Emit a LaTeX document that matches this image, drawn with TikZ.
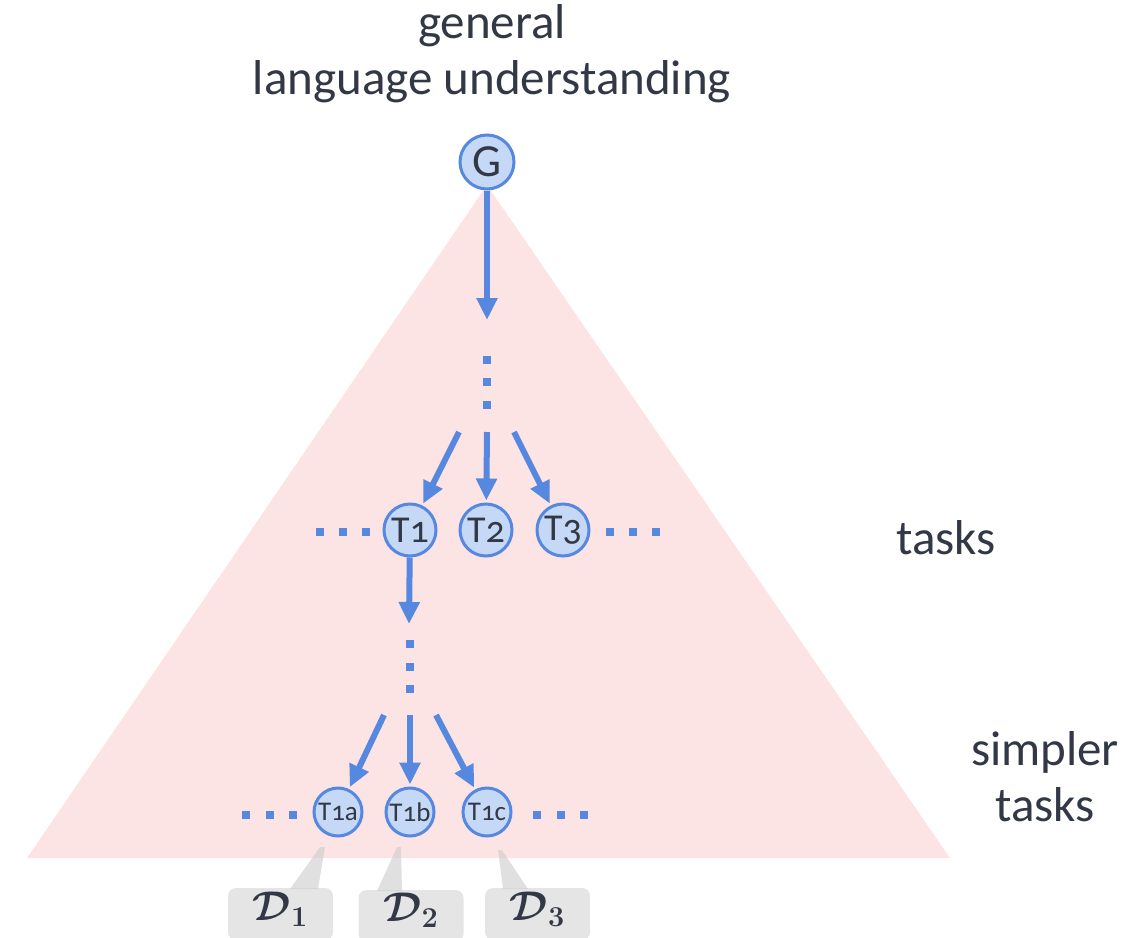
\documentclass[tikz,border=0pt]{standalone}
\usepackage{fontspec}
\setmainfont[Numbers=OldStyle]{Carlito}
\usepackage{bm}
\usetikzlibrary{arrows.meta}
\definecolor{treeBleu}{RGB}{86,136,224}
\definecolor{treeBleuFond}{RGB}{197,216,245}
\definecolor{treeRose}{RGB}{253,228,228}
\definecolor{treeTexte}{RGB}{50,56,70}
\definecolor{treeGris}{RGB}{229,229,229}

\begin{document}
\begin{tikzpicture}[
  x=0.5pt, y=-0.5pt,
  every node/.style={text=treeTexte},
  task/.style={circle, draw=treeBleu, line width=1.5pt, fill=treeBleuFond,
               minimum size=26pt, inner sep=0pt},
  subtask/.style={task, minimum size=24pt, font=\fontsize{13.5}{15}\selectfont},
  lbl/.style={font=\fontsize{24.5}{28}\selectfont, align=center},
  sq/.style={rectangle, fill=treeBleu, minimum size=4pt, inner sep=0pt},
  fl/.style={-{Triangle[width=10pt,length=11pt]}, line width=3pt, treeBleu, shorten >=1pt},
  data/.style={rectangle, rounded corners=4pt, fill=treeGris, minimum width=52.5pt,
               minimum height=26pt},
  wedge/.style={fill=gray!40, opacity=0.6}
]
\clip (0,0) rectangle (1145,937);
\useasboundingbox (0,0) rectangle (1145,937);

% triangle de fond
\fill[treeRose] (487,185) -- (950,858) -- (27,858) -- cycle;

% titres
\node[lbl] (titre)   at (492,54)   {general\\language understanding};
\node[lbl] (tasks)   at (946,538)  {tasks};
\node[lbl] (simpler) at (1045,777) {simpler\\tasks};

% noeuds
\node[task, minimum size=27pt, font=\fontsize{23}{25}\selectfont] (G) at (487,162) {G};
\node[task, font=\fontsize{19}{21}\selectfont] (T1) at (410,530) {T1};
\node[task, font=\fontsize{19}{21}\selectfont] (T2) at (486,530) {T2};
\node[task, font=\fontsize{19}{21}\selectfont] (T3) at (563,530) {T3};
\node[subtask] (T1a) at (338,812) {T1a};
\node[subtask] (T1b) at (410,812) {T1b};
\node[subtask] (T1c) at (487,812) {T1c};

% points de suspension
\foreach \y in {360,382,405} \node[sq] at (487,\y) {};
\foreach \y in {644,667,689} \node[sq] at (410,\y) {};
\foreach \x in {320,343,366,610,633,656} \node[sq] at (\x,532) {};
\foreach \x in {246,270,293,537,561,584} \node[sq] at (\x,815) {};

% fleches
\coordinate (gBas) at (487,322);
\coordinate (fanL) at (459,432);
\coordinate (fanM) at (487,432);
\coordinate (fanR) at (514,432);
\coordinate (t1Bas) at (409,624);
\coordinate (subL) at (384,715);
\coordinate (subM) at (410,715);
\coordinate (subR) at (436,715);

\draw[fl] (G) -- (gBas);
\draw[fl] (fanL) -- (T1);
\draw[fl] (fanM) -- (T2);
\draw[fl] (fanR) -- (T3);
\draw[fl, shorten >=0pt] (T1) -- (t1Bas);
\draw[fl] (subL) -- (T1a);
\draw[fl] (subM) -- (T1b);
\draw[fl] (subR) -- (T1c);

% jeux de donnees
\node[data] (D1) at (280.5,914) {};
\node[data] (D2) at (411,916)   {};
\node[data] (D3) at (537.5,914) {};
\node[font=\fontsize{21}{23}\selectfont] (D1txt) at (280.5,909) {$\bm{\mathcal{D}_1}$};
\node[font=\fontsize{21}{23}\selectfont] (D2txt) at (411,910)   {$\bm{\mathcal{D}_2}$};
\node[font=\fontsize{21}{23}\selectfont] (D3txt) at (537.5,909) {$\bm{\mathcal{D}_3}$};

\fill[wedge] (320,847) -- (325,847) -- (318,889) -- (290,889) -- cycle;
\fill[wedge] (397,847) -- (401,847) -- (402,891) -- (377,891) -- cycle;
\fill[wedge] (498,850) -- (502,850) -- (528,889) -- (503,889) -- cycle;

\end{tikzpicture}
\end{document}
